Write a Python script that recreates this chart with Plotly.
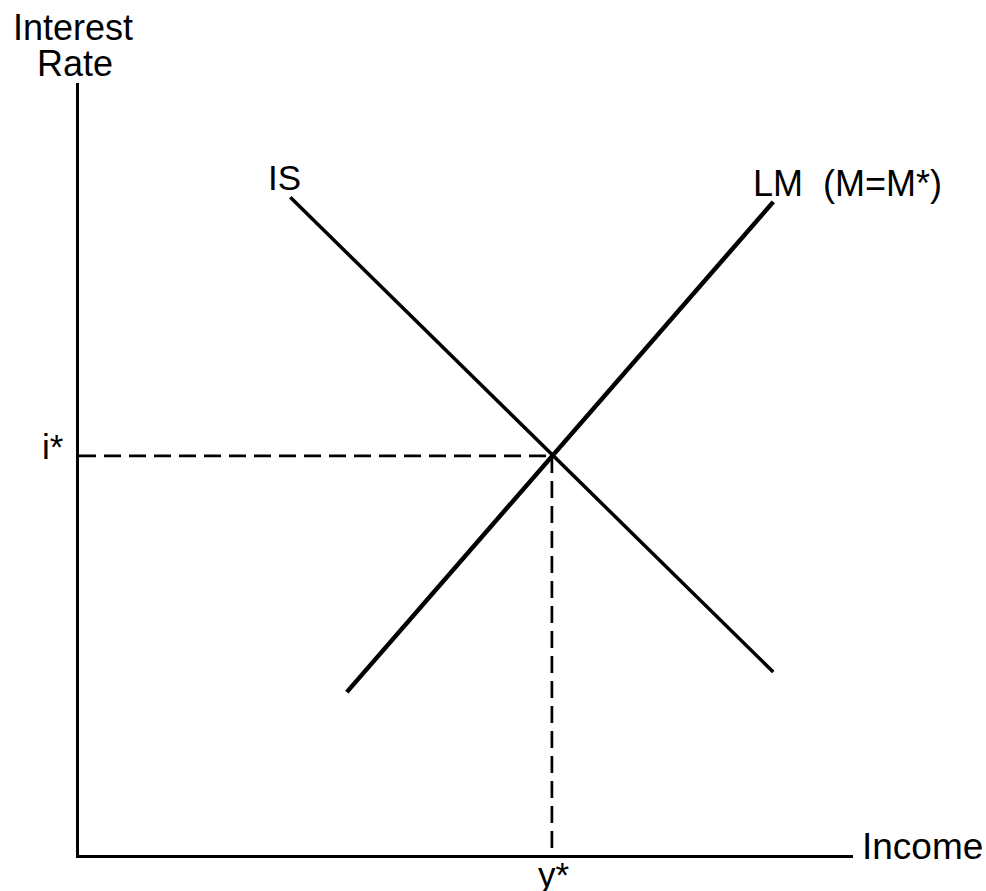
import plotly.graph_objects as go

# IS-LM diagram data (income on x, interest rate on y, arbitrary 0-100 units)
is_income = [27.3, 89.7]
is_rate = [85.2, 23.7]
lm_income = [34.6, 89.7]
lm_rate = [21.1, 84.6]
y_star = 61.1
i_star = 51.7

FONT = "Liberation Sans, Arial, Helvetica, sans-serif"

fig = go.Figure()

# dashed guide lines
fig.add_trace(go.Scatter(x=[0, y_star], y=[i_star, i_star], mode="lines",
                         line=dict(color="black", width=2.7, dash="17px,8px"),
                         hoverinfo="skip"))
fig.add_trace(go.Scatter(x=[y_star, y_star], y=[i_star, 0], mode="lines",
                         line=dict(color="black", width=2.7, dash="17px,8px"),
                         hoverinfo="skip"))
# IS curve
fig.add_trace(go.Scatter(x=is_income, y=is_rate, mode="lines",
                         line=dict(color="black", width=3.5), name="IS"))
# LM curve
fig.add_trace(go.Scatter(x=lm_income, y=lm_rate, mode="lines",
                         line=dict(color="black", width=4.5), name="LM"))

L, T, R, B = 79, 83, 133, 36
W, H = 986, 891
PW, PH = W - L - R, H - T - B


def px(xp, yp):
    return (xp - L) / PW, (H - B - yp) / PH


def label(text, xp, yp, size, xanchor="center", yanchor="middle"):
    xx, yy = px(xp, yp)
    fig.add_annotation(text=text, x=xx, y=yy, xref="paper", yref="paper",
                       showarrow=False, xanchor=xanchor, yanchor=yanchor,
                       font=dict(family=FONT, size=size, color="black"))


label("Interest", 73, 28, 36)
label("Rate", 75, 64, 36)
label("Income", 860, 846, 37, xanchor="left")
label("IS", 284, 177, 35)
label("LM  (M=M*)", 847, 183, 36)
label("i*", 53, 446, 35)
label("y*", 554, 874, 35)

fig.update_layout(
    width=W, height=H,
    margin=dict(l=L, r=R, t=T, b=B, pad=0),
    paper_bgcolor="white", plot_bgcolor="white",
    showlegend=False,
    xaxis=dict(range=[0, 100], showgrid=False, zeroline=False, showticklabels=False,
               ticks="", showline=True, linecolor="black", linewidth=3),
    yaxis=dict(range=[0, 100], showgrid=False, zeroline=False, showticklabels=False,
               ticks="", showline=True, linecolor="black", linewidth=3),
)

fig.write_html("out.html", config={"displayModeBar": False},
               post_script="document.body.style.margin='0px';document.body.style.overflow='hidden';")
